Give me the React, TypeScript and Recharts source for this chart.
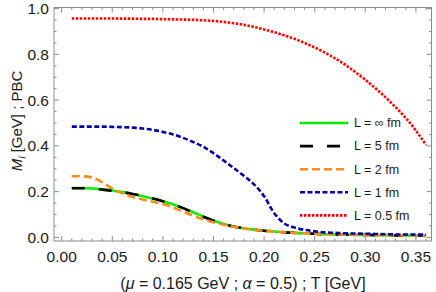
import { LineChart, Line, XAxis, YAxis, Legend } from 'recharts';

// temperatures T [GeV]
const T = [
  0.01, 0.02, 0.03, 0.04, 0.05, 0.06, 0.07, 0.08, 0.09, 0.10, 0.11, 0.12,
  0.13, 0.14, 0.15, 0.16, 0.17, 0.18, 0.19, 0.20, 0.21, 0.22, 0.23, 0.24,
  0.25, 0.26, 0.27, 0.28, 0.29, 0.30, 0.31, 0.32, 0.33, 0.34, 0.35, 0.36,
];

// M_i [GeV] per box size L
const M_INF = [
  0.216, 0.216, 0.214, 0.210, 0.205, 0.198, 0.190, 0.180, 0.170, 0.158, 0.145, 0.128,
  0.110, 0.091, 0.073, 0.059, 0.048, 0.040, 0.034, 0.030, 0.026, 0.023, 0.020, 0.018,
  0.016, 0.014, 0.013, 0.012, 0.011, 0.011, 0.010, 0.010, 0.009, 0.009, 0.009, 0.008,
];
const M_5 = [
  0.215, 0.215, 0.213, 0.209, 0.204, 0.198, 0.190, 0.181, 0.170, 0.158, 0.144, 0.128,
  0.109, 0.090, 0.073, 0.059, 0.048, 0.040, 0.034, 0.029, 0.026, 0.022, 0.020, 0.018,
  0.016, 0.014, 0.013, 0.012, 0.011, 0.011, 0.010, 0.010, 0.009, 0.009, 0.009, 0.009,
];
const M_2 = [
  0.267, 0.267, 0.262, 0.241, 0.214, 0.193, 0.177, 0.166, 0.156, 0.146, 0.131, 0.113,
  0.095, 0.079, 0.066, 0.056, 0.047, 0.039, 0.033, 0.029, 0.025, 0.022, 0.020, 0.018,
  0.016, 0.014, 0.013, 0.012, 0.011, 0.011, 0.010, 0.010, 0.010, 0.009, 0.009, 0.009,
];
const M_1 = [
  0.484, 0.484, 0.484, 0.484, 0.483, 0.482, 0.480, 0.476, 0.470, 0.461, 0.450, 0.435,
  0.417, 0.396, 0.368, 0.336, 0.303, 0.269, 0.232, 0.180, 0.106, 0.061, 0.043, 0.033,
  0.027, 0.022, 0.020, 0.018, 0.017, 0.016, 0.015, 0.014, 0.013, 0.013, 0.012, 0.012,
];
const M_05 = [
  0.957, 0.957, 0.957, 0.957, 0.957, 0.956, 0.956, 0.955, 0.955, 0.954, 0.953, 0.952,
  0.951, 0.949, 0.946, 0.942, 0.936, 0.929, 0.920, 0.909, 0.897, 0.883, 0.868, 0.850,
  0.830, 0.808, 0.783, 0.755, 0.723, 0.689, 0.652, 0.612, 0.569, 0.522, 0.467, 0.404,
];

const LEGEND_LABELS = ['L = \u221e fm', 'L = 5 fm', 'L = 2 fm', 'L = 1 fm', 'L = 0.5 fm'];

const X_TICKS = [
  0, 0.01, 0.02, 0.03, 0.04, 0.05, 0.06, 0.07, 0.08, 0.09, 0.10, 0.11, 0.12,
  0.13, 0.14, 0.15, 0.16, 0.17, 0.18, 0.19, 0.20, 0.21, 0.22, 0.23, 0.24, 0.25,
  0.26, 0.27, 0.28, 0.29, 0.30, 0.31, 0.32, 0.33, 0.34, 0.35, 0.36,
];
const Y_TICKS = [
  0, 0.05, 0.1, 0.15, 0.2, 0.25, 0.3, 0.35, 0.4, 0.45, 0.5,
  0.55, 0.6, 0.65, 0.7, 0.75, 0.8, 0.85, 0.9, 0.95, 1.0,
];

const data = T.map((t, i) => ({
  t, inf: M_INF[i], l5: M_5[i], l2: M_2[i], l1: M_1[i], l05: M_05[i],
}));

const SERIES = [
  { key: 'inf', color: '#00f000', dash: undefined as string | undefined },
  { key: 'l5',  color: '#000000', dash: '13 14' },
  { key: 'l2',  color: '#ff8c1a', dash: '8 4' },
  { key: 'l1',  color: '#0000a8', dash: '5 2.5' },
  { key: 'l05', color: '#ff0000', dash: '2.5 1.5' },
];

const FRAME = '#8c8c8c';
const FONT = '"Liberation Sans", Arial, sans-serif';
const X_DOMAIN = [-0.0076, 0.3654];
const Y_DOMAIN = [-0.0157, 1.0048];

const isMajorX = (v: number) => Math.round(v * 100) % 5 === 0;
const isMajorY = (v: number) => Math.round(v * 100) % 20 === 0;

function BottomTick({ x, y, payload }: any) {
  const major = isMajorX(payload.value);
  return (
    <g>
      <line x1={x} x2={x} y1={y} y2={y - (major ? 5 : 2.5)} stroke={FRAME} />
      {major && (
        <text x={x} y={y + 16} dy="0.35em" textAnchor="middle" fontSize={15.5} fontFamily={FONT} fill="#1a1a1a">
          {payload.value.toFixed(2)}
        </text>
      )}
    </g>
  );
}

function TopTick({ x, y, payload }: any) {
  const major = isMajorX(payload.value);
  return <line x1={x} x2={x} y1={y} y2={y + (major ? 5 : 2.5)} stroke={FRAME} />;
}

function LeftTick({ x, y, payload }: any) {
  const major = isMajorY(payload.value);
  return (
    <g>
      <line x1={x} x2={x + (major ? 5 : 2.5)} y1={y} y2={y} stroke={FRAME} />
      {major && (
        <text x={x - 5} y={y} dy="0.35em" textAnchor="end" fontSize={15.5} fontFamily={FONT} fill="#1a1a1a">
          {payload.value.toFixed(1)}
        </text>
      )}
    </g>
  );
}

function RightTick({ x, y, payload }: any) {
  const major = isMajorY(payload.value);
  return <line x1={x} x2={x - (major ? 5 : 2.5)} y1={y} y2={y} stroke={FRAME} />;
}

const renderXTitle = () => (
  <text x={243} y={283} dy="0.35em" textAnchor="middle" fontSize={16} fontFamily={FONT} fill="#1a1a1a">
    (<tspan fontStyle="italic">{'\u03bc'}</tspan> = 0.165 GeV ; <tspan fontStyle="italic">{'\u03b1'}</tspan> = 0.5) ; T [GeV]
  </text>
);

const renderYTitle = () => (
  <text x={17} y={121} dy="0.35em" textAnchor="middle" transform="rotate(-90 17 121)" fontSize={15} fontFamily={FONT} fill="#1a1a1a">
    <tspan fontStyle="italic">M</tspan>
    <tspan fontStyle="italic" fontSize={10.5} dy={4}>i</tspan>
    <tspan dy={-4}> [GeV] ; PBC</tspan>
  </text>
);

const renderLegend = () => (
  <svg width={140} height={116} style={{ display: 'block' }}>
    {SERIES.map((s, i) => {
      const cy = 12 + i * 23.1;
      return (
        <g key={s.key}>
          <line x1={4} x2={52} y1={cy} y2={cy} stroke={s.color} strokeWidth={2.6} strokeDasharray={s.dash} />
          <text x={58} y={cy} dy="0.35em" fontSize={12.5} fontFamily={FONT} fill="#1a1a1a">
            {LEGEND_LABELS[i]}
          </text>
        </g>
      );
    })}
  </svg>
);

export default function App() {
  return (
    <div style={{ position: 'absolute', left: 0, top: 0, background: '#fff' }}>
      <LineChart width={436} height={292} data={data} margin={{ top: 6.5, right: 3.5, bottom: 0, left: 0 }}>
        <XAxis
          dataKey="t" type="number" domain={X_DOMAIN} ticks={X_TICKS} interval={0} allowDataOverflow
          height={51} tickSize={0} tickMargin={0} tickLine={false} axisLine={{ stroke: FRAME }}
          tick={<BottomTick />} label={renderXTitle}
        />
        <XAxis
          xAxisId="top" orientation="top" dataKey="t" type="number" domain={X_DOMAIN} ticks={X_TICKS} interval={0}
          allowDataOverflow height={1} tickSize={0} tickMargin={0} tickLine={false} axisLine={{ stroke: FRAME }}
          tick={<TopTick />}
        />
        <YAxis
          type="number" domain={Y_DOMAIN} ticks={Y_TICKS} interval={0} allowDataOverflow
          width={54} tickSize={0} tickMargin={0} tickLine={false} axisLine={{ stroke: FRAME }}
          tick={<LeftTick />} label={renderYTitle}
        />
        <YAxis
          yAxisId="right" orientation="right" type="number" domain={Y_DOMAIN} ticks={Y_TICKS} interval={0}
          allowDataOverflow width={1} tickSize={0} tickMargin={0} tickLine={false} axisLine={{ stroke: FRAME }}
          tick={<RightTick />}
        />
        <Legend
          layout="horizontal" verticalAlign="middle" align="center" content={renderLegend}
          wrapperStyle={{ left: 296, top: 110.7, width: 140, height: 116 }}
        />
        {SERIES.map((s) => (
          <Line
            key={s.key} type="monotone" dataKey={s.key} stroke={s.color} strokeWidth={2.6}
            strokeDasharray={s.dash} dot={false} activeDot={false} isAnimationActive={false}
          />
        ))}
      </LineChart>
    </div>
  );
}
